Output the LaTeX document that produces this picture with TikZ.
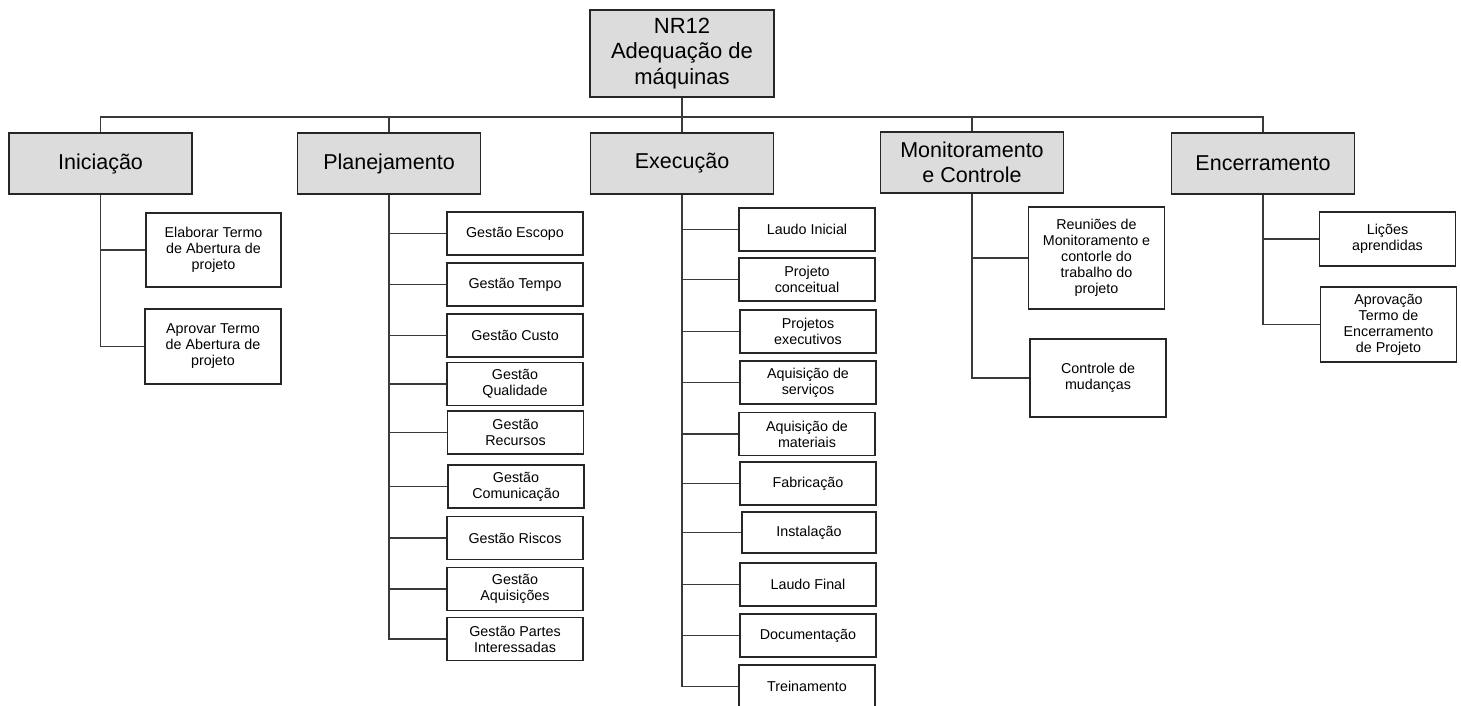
\documentclass[tikz,border=0pt]{standalone}
\usepackage{fontspec}
\setmainfont{Liberation Sans}
\definecolor{boxgray}{HTML}{DCDCDC}
\definecolor{linegray}{HTML}{3A3A3A}
\tikzset{every picture/.style={line width=1.7pt}}
\tikzset{
  rootbox/.style={draw=black!85, fill=boxgray, minimum width=184, minimum height=87, align=center, inner sep=0.75pt, font=\fontsize{22}{25.5}\selectfont},
  phasebox/.style={draw=black!85, fill=boxgray, minimum width=183, minimum height=61, align=center, inner sep=0.75pt, font=\fontsize{21.5}{25}\selectfont},
  leafbox/.style={draw=black!85, fill=white, minimum width=136, minimum height=43, align=center, inner sep=0.75pt, font=\fontsize{14.3}{16}\selectfont},
  link/.style={draw=linegray, line width=1.7pt}
}

\begin{document}
\begin{tikzpicture}[x=1pt,y=1pt,yscale=-1,xscale=1]
		\useasboundingbox (0,0) rectangle (1461,705);
		\clip (0,0) rectangle (1461,705);

		% Root Node
		\draw (682,53.5) node [rootbox] (root) {NR12\\Adequação de\\máquinas};

		% Phase Nodes
		\draw (100.5,163.5) node [phasebox] (ini) {Iniciação};
		\draw (389,163.5) node [phasebox] (plan) {Planejamento};
		\draw (682,163.5) node [phasebox] (exec) {Execução};
		\draw (972,162.5) node [phasebox] (mon) {Monitoramento\\e Controle};
		\draw (1263,163.5) node [phasebox] (enc) {Encerramento};

		% Text Node
		\draw (213.5,250) node [leafbox, minimum width=135, minimum height=74] (ini1) {Elaborar Termo\\de Abertura de\\projeto};
		% Text Node
		\draw (213,346.5) node [leafbox, minimum height=75] (ini2) {Aprovar Termo\\de Abertura de\\projeto};

		% Text Node
		\draw (515,233.5) node [leafbox] (plan1) {Gestão Escopo};
		% Text Node
		\draw (515,284.5) node [leafbox] (plan2) {Gestão Tempo};
		% Text Node
		\draw (515,335.5) node [leafbox] (plan3) {Gestão Custo};
		% Text Node
		\draw (515,384) node [leafbox] (plan4) {Gestão\\Qualidade};
		% Text Node
		\draw (515.5,432.5) node [leafbox] (plan5) {Gestão\\Recursos};
		% Text Node
		\draw (516,486.5) node [leafbox] (plan6) {Gestão\\Comunicação};
		% Text Node
		\draw (515,538) node [leafbox] (plan7) {Gestão Riscos};
		% Text Node
		\draw (515,589) node [leafbox] (plan8) {Gestão\\Aquisições};
		% Text Node
		\draw (515,639) node [leafbox] (plan9) {Gestão Partes\\Interessadas};

		% Text Node
		\draw (807,229.5) node [leafbox] (exec1) {Laudo Inicial};
		% Text Node
		\draw (807,279.5) node [leafbox] (exec2) {Projeto\\conceitual};
		% Text Node
		\draw (808,331.5) node [leafbox] (exec3) {Projetos\\executivos};
		% Text Node
		\draw (808,382.5) node [leafbox] (exec4) {Aquisição de\\serviços};
		% Text Node
		\draw (807,434) node [leafbox] (exec5) {Aquisição de\\materiais};
		% Text Node
		\draw (808,483.5) node [leafbox] (exec6) {Fabricação};
		% Text Node
		\draw (809,532.5) node [leafbox, minimum width=134, minimum height=41] (exec7) {Instalação};
		% Text Node
		\draw (808,584.5) node [leafbox] (exec8) {Laudo Final};
		% Text Node
		\draw (808,635.5) node [leafbox] (exec9) {Documentação};
		% Text Node
		\draw (807,686.5) node [leafbox] (exec10) {Treinamento};

		% Text Node
		\draw (1096.5,258) node [leafbox, minimum height=102] (mon1) {Reuniões de\\Monitoramento e\\contorle do\\trabalho do\\projeto};
		% Text Node
		\draw (1098,378) node [leafbox, minimum height=78] (mon2) {Controle de\\mudanças};

		% Text Node
		\draw (1387.5,239) node [leafbox, minimum height=54] (enc1) {Lições\\aprendidas};
		% Text Node
		\draw (1388.5,324.5) node [leafbox, minimum height=75] (enc2) {Aprovação\\Termo de\\Encerramento\\de Projeto};

		% Root to phases
		\foreach \p in {ini,plan,exec,mon,enc}
			\draw [link] (root.south) -- ++(0,19) -| (\p.north);

		% Phases to items
		\foreach \c in {ini1,ini2}
			\draw [link] (ini.south) |- (\c.west);
		\foreach \c in {plan1,plan2,plan3,plan4,plan5,plan6,plan7,plan8,plan9}
			\draw [link] (plan.south) |- (\c.west);
		\foreach \c in {exec1,exec2,exec3,exec4,exec5,exec6,exec7,exec8,exec9,exec10}
			\draw [link] (exec.south) |- (\c.west);
		\foreach \c in {mon1,mon2}
			\draw [link] (mon.south) |- (\c.west);
		\foreach \c in {enc1,enc2}
			\draw [link] (enc.south) |- (\c.west);

\end{tikzpicture}
\end{document}
